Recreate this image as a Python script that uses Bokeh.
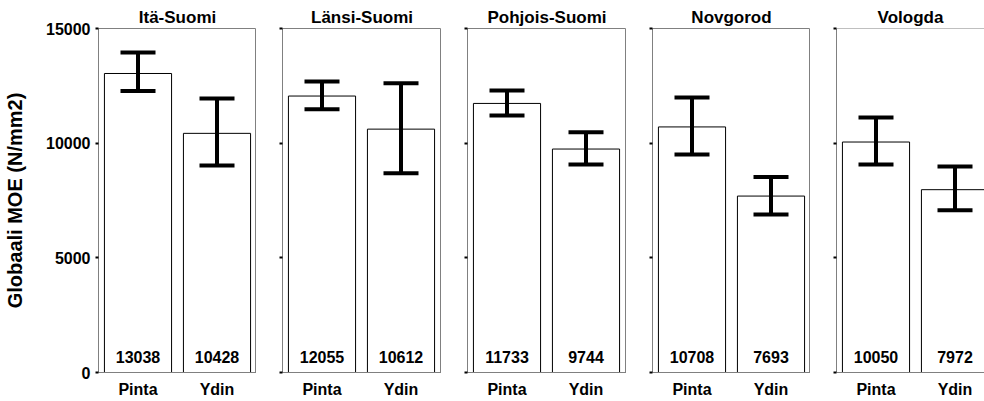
from bokeh.plotting import figure
from bokeh.layouts import row
from bokeh.models import (ColumnDataSource, Whisker, TeeHead, FixedTicker, Range1d, Span,
                          CustomJSTickFormatter)
from bokeh.core.properties import value
from bokeh.embed import file_html
from bokeh.resources import INLINE

# ---- data ----
regions = ["Itä-Suomi", "Länsi-Suomi", "Pohjois-Suomi", "Novgorod", "Vologda"]
categories = ["Pinta", "Ydin"]
pinta_mean = [13038, 12055, 11733, 10708, 10050]
ydin_mean = [10428, 10612, 9744, 7693, 7972]
pinta_low = [12270, 11480, 11210, 9510, 9070]
pinta_high = [13950, 12690, 12300, 11990, 11120]
ydin_low = [9030, 8690, 9070, 6890, 7070]
ydin_high = [11950, 12610, 10480, 8530, 8980]
y_ticks = [0, 5000, 10000, 15000]
y_label = "Globaali MOE (N/mm2)"

# ---- style ----
FONT = "Liberation Sans"
FRAME = "#808080"
fig_widths = [256, 185, 185, 184, 174]
left_borders = [98, 26, 26, 26, 26]
BASE_FRAME_W = 158

xs = [i + 0.5 for i in range(len(categories))]
n_cat = len(categories)

figs = []
for k, reg in enumerate(regions):
    frame_w = fig_widths[k] - left_borders[k]
    x_end = n_cat * frame_w / BASE_FRAME_W
    last = k == len(regions) - 1
    p = figure(width=fig_widths[k], height=401,
               x_range=Range1d(0, x_end), y_range=Range1d(y_ticks[0], y_ticks[-1]),
               output_backend="svg", toolbar_location=None,
               min_border_left=left_borders[k], min_border_right=0,
               min_border_top=28, min_border_bottom=29,
               background_fill_color="white", border_fill_color="white")
    p.grid.visible = False
    p.outline_line_color = None if last else FRAME
    p.outline_line_width = 1

    p.title.text = reg
    p.title.align = "center"
    p.title.text_font = FONT
    p.title.text_font_style = "bold"
    p.title.text_font_size = "17px"
    p.title.text_color = "black"
    p.title.standoff = 4

    src = ColumnDataSource(dict(
        x=xs,
        top=[pinta_mean[k], ydin_mean[k]],
        lower=[pinta_low[k], ydin_low[k]],
        upper=[pinta_high[k], ydin_high[k]],
        label=[str(pinta_mean[k]), str(ydin_mean[k])],
    ))

    p.vbar(x="x", top="top", bottom=0, width=0.85, source=src,
           fill_color="white", line_color="black", line_width=1)

    w = Whisker(base="x", lower="lower", upper="upper", source=src,
                line_color="black", line_width=4, level="overlay",
                upper_head=TeeHead(size=35, line_color="black", line_width=4),
                lower_head=TeeHead(size=35, line_color="black", line_width=4))
    p.add_layout(w)

    p.text(x="x", y=0, text="label", source=src, text_align="center",
           text_baseline="alphabetic", y_offset=-16,
           text_font=value(FONT), text_font_style="bold", text_font_size="16px",
           text_color="black")

    if last:
        p.add_layout(Span(location=y_ticks[-1], dimension="width",
                          line_color=FRAME, line_width=1))

    # y axis
    ya = p.yaxis[0]
    ya.ticker = FixedTicker(ticks=y_ticks)
    ya.axis_line_color = FRAME
    ya.major_tick_line_color = "black"
    ya.major_tick_line_width = 2
    ya.major_tick_out = 3
    ya.major_tick_in = 0
    ya.minor_tick_line_color = None
    ya.major_label_text_font = FONT
    ya.major_label_text_font_style = "bold"
    ya.major_label_text_color = "black"
    ya.major_label_text_font_size = "16px"
    if k == 0:
        ya.major_label_standoff = 5
        ya.axis_label = y_label
        ya.axis_label_text_font = FONT
        ya.axis_label_text_font_style = "bold"
        ya.axis_label_text_font_size = "20px"
        ya.axis_label_text_color = "black"
        ya.axis_label_standoff = 17
    else:
        ya.formatter = CustomJSTickFormatter(code="return ''")
        ya.major_label_standoff = 0

    # x axis
    xa = p.xaxis[0]
    xa.ticker = FixedTicker(ticks=xs)
    xa.major_label_overrides = {x: c for x, c in zip(xs, categories)}
    xa.axis_line_color = FRAME
    xa.major_tick_line_color = None
    xa.major_tick_out = 0
    xa.major_tick_in = 0
    xa.minor_tick_line_color = None
    xa.major_label_standoff = 8
    xa.major_label_text_font = FONT
    xa.major_label_text_font_style = "bold"
    xa.major_label_text_font_size = "16px"
    xa.major_label_text_color = "black"

    figs.append(p)

layout = row(*figs, spacing=0)
open("out.html", "w").write(file_html(layout, INLINE))
